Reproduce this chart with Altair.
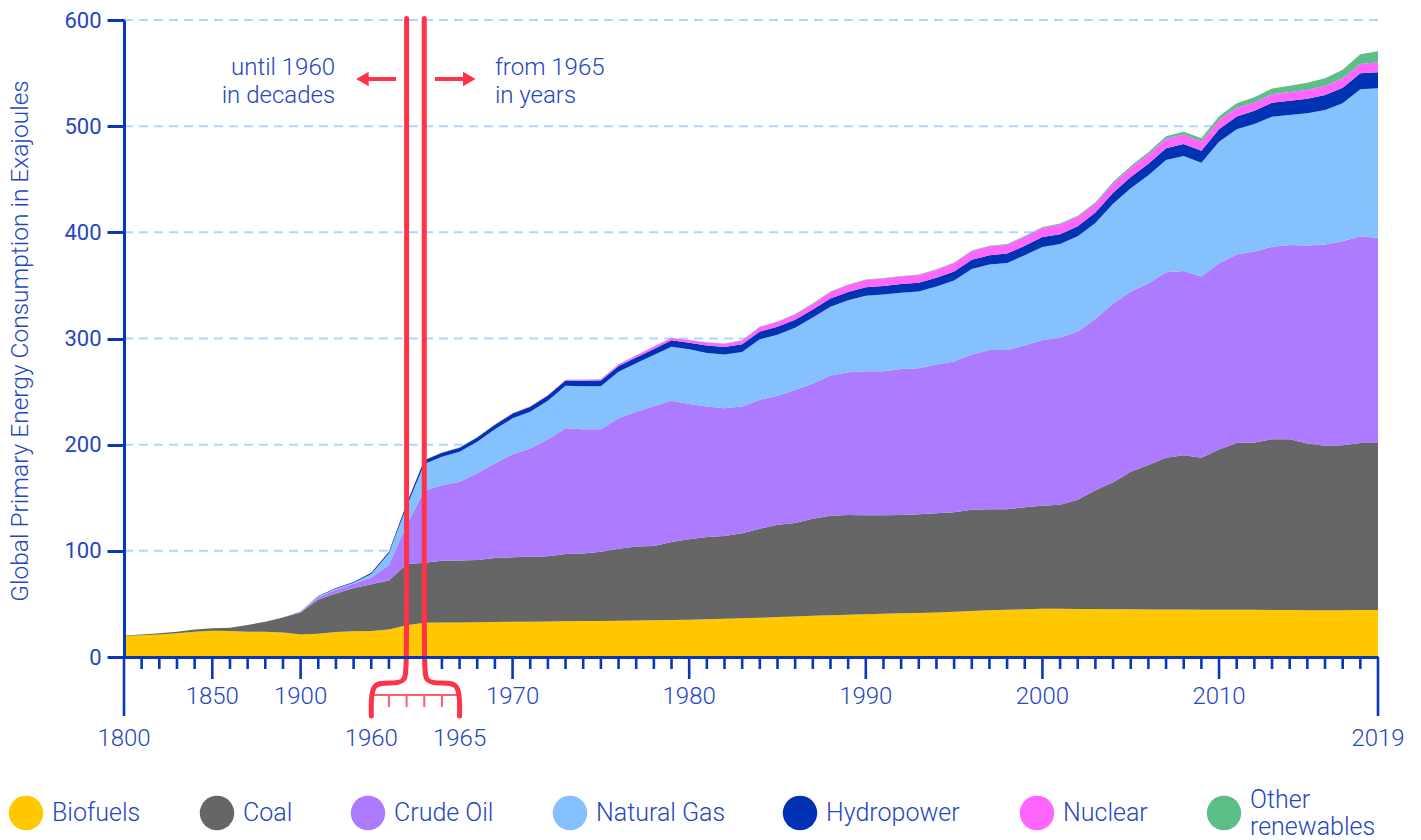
import altair as alt
import pandas as pd

# ---------------------------------------------------------------------------
# Global primary energy consumption by source, in exajoules.
# Until 1960 the series is given per decade, from 1965 per year.
# ---------------------------------------------------------------------------
years = [1800 + 10 * k for k in range(17)] + list(range(1965, 2020))

biofuels = [
    19.8, 20.4, 21.3, 22.3, 23.9, 24.8, 24.5, 23.9, 23.9, 23.0, 21.1, 22.0, 23.6, 24.2, 24.5, 26.0, 30.0,
    32.3, 32.5, 32.6, 32.8, 33.0, 33.1, 33.3, 33.5, 33.6, 33.8, 34.0, 34.2, 34.4, 34.6, 34.8, 35.0,
    35.5, 36.0, 36.5, 37.0, 37.6, 38.2, 38.8, 39.3, 39.8, 40.3, 40.7, 41.1, 41.5, 42.0, 42.6, 43.3, 44.0, 44.5, 45.0, 45.5,
    45.4, 45.3, 45.2, 45.0, 44.9, 44.8, 44.7, 44.7, 44.6, 44.6, 44.5, 44.4, 44.3, 44.2, 44.0, 44.0, 44.1, 44.2, 44.3,
]
coal = [
    0.4, 0.7, 1.0, 1.6, 2.1, 2.2, 3.1, 6.2, 9.3, 14.3, 20.9, 32.2, 36.3, 40.8, 44.0, 46.0, 57.3,
    56.5, 58.2, 58.4, 58.6, 60.2, 60.8, 61.1, 61.5, 63.4, 63.7, 65.2, 67.8, 69.6, 70.0, 73.5, 75.8,
    77.5, 78.0, 80.0, 83.9, 86.9, 88.1, 91.4, 93.8, 94.0, 93.2, 92.8, 92.7, 93.0, 93.3, 93.7, 95.5, 95.2, 94.7, 96.0, 97.0,
    98.1, 102.7, 111.8, 119.6, 129.7, 136.0, 143.0, 145.3, 143.1, 150.8, 157.0, 157.6, 160.7, 160.8, 157.0, 155.0, 155.4, 157.3, 157.2,
]
crude_oil = [
    0.0, 0.0, 0.0, 0.0, 0.0, 0.0, 0.0, 0.0, 0.0, 0.1, 0.7, 2.0, 3.4, 4.0, 6.5, 14.7, 36.7,
    67.9, 71.0, 74.0, 81.6, 89.2, 97.1, 102.1, 110.0, 118.4, 117.0, 115.3, 122.8, 127.0, 131.8, 133.1, 127.5,
    123.0, 120.2, 119.5, 121.5, 121.5, 125.1, 127.4, 132.0, 134.5, 135.6, 135.6, 137.4, 137.4, 140.2, 142.1, 146.1, 150.0, 150.0, 152.5, 156.0,
    157.3, 158.5, 161.5, 168.1, 169.6, 171.1, 174.6, 173.5, 170.8, 175.4, 177.7, 179.9, 181.5, 183.1, 186.7, 189.5, 192.0, 194.7, 193.1,
]
natural_gas = [
    0.0, 0.0, 0.0, 0.0, 0.0, 0.0, 0.0, 0.0, 0.0, 0.1, 0.3, 0.8, 1.0, 1.0, 3.2, 11.0, 17.5,
    25.1, 27.0, 28.4, 29.8, 32.1, 33.8, 34.5, 36.4, 40.1, 40.5, 40.5, 43.9, 45.6, 48.0, 50.9, 51.5,
    50.3, 50.7, 51.4, 56.9, 57.6, 58.7, 62.2, 64.8, 67.7, 71.2, 72.3, 72.0, 72.3, 73.4, 76.3, 80.6, 80.6, 82.0, 84.9, 87.8,
    88.2, 89.7, 90.3, 94.3, 97.3, 101.9, 105.8, 108.4, 107.1, 114.6, 117.8, 120.1, 122.4, 122.4, 124.4, 126.7, 130.0, 138.5, 141.0,
]
hydropower = [
    0.0, 0.0, 0.0, 0.0, 0.0, 0.0, 0.0, 0.0, 0.0, 0.0, 0.2, 0.4, 0.6, 0.7, 1.2, 1.5, 2.8,
    3.5, 3.7, 3.8, 4.0, 4.3, 4.5, 4.7, 4.8, 4.9, 5.3, 5.4, 5.5, 5.6, 5.8, 6.0, 6.2,
    7.0, 7.1, 7.2, 7.3, 7.4, 7.5, 7.6, 7.8, 7.9, 8.0, 8.1, 8.1, 8.3, 8.3, 8.5, 8.6, 8.7, 8.8, 8.9, 9.2,
    9.3, 9.5, 9.8, 10.3, 10.6, 10.9, 11.0, 11.3, 11.3, 11.8, 12.1, 12.6, 13.2, 13.5, 13.8, 14.1, 14.8, 15.1, 15.1,
]
nuclear = [
    0.0, 0.0, 0.0, 0.0, 0.0, 0.0, 0.0, 0.0, 0.0, 0.0, 0.0, 0.0, 0.0, 0.0, 0.0, 0.0, 0.2,
    0.1, 0.2, 0.2, 0.3, 0.3, 0.3, 0.4, 0.6, 0.7, 0.9, 1.3, 1.5, 1.9, 2.2, 2.2, 2.5,
    2.9, 3.1, 3.4, 4.3, 4.8, 5.0, 5.4, 6.1, 6.5, 6.8, 6.9, 7.1, 7.3, 7.6, 7.9, 8.2, 8.3, 8.4, 8.6, 8.7,
    9.0, 8.9, 8.6, 8.8, 8.8, 8.8, 9.0, 8.9, 8.7, 8.6, 8.3, 7.8, 8.0, 8.3, 8.5, 8.8, 8.9, 8.8, 9.6,
]
other_renewables = [
    0.0, 0.0, 0.0, 0.0, 0.0, 0.0, 0.0, 0.0, 0.0, 0.0, 0.0, 0.0, 0.0, 0.0, 0.0, 0.0, 0.0,
    0.1, 0.1, 0.1, 0.1, 0.1, 0.1, 0.1, 0.1, 0.1, 0.1, 0.1, 0.1, 0.1, 0.1, 0.1, 0.1,
    0.3, 0.3, 0.3, 0.3, 0.3, 0.4, 0.4, 0.4, 0.4, 0.5, 0.5, 0.5, 0.5, 0.5, 0.6, 0.6, 0.6, 0.6, 0.7, 0.8,
    1.0, 1.1, 1.2, 1.4, 1.6, 1.9, 2.3, 2.7, 3.0, 3.6, 4.2, 4.8, 5.3, 5.8, 6.4, 7.1, 8.0, 9.2, 10.3,
]

series_names = ["Biofuels", "Coal", "Crude Oil", "Natural Gas", "Hydropower", "Nuclear", "Other renewables"]
series_values = [biofuels, coal, crude_oil, natural_gas, hydropower, nuclear, other_renewables]
series_colors = ["#ffc800", "#666666", "#ac7bff", "#85c1ff", "#0033b4", "#ff66ff", "#5cbf88"]

y_ticks = [0, 100, 200, 300, 400, 500, 600]
upper_label_years = [1850, 1900, 1970, 1980, 1990, 2000, 2010]
end_label_years = [1800, 2019]

# ---------------------------------------------------------------------------
# Styling and layout
# ---------------------------------------------------------------------------
AXIS = "#0a36b8"
TEXT = "#2446c2"
GRID = "#aed6ff"
RED = "#ff3347"
RED_LIGHT = "#ff5c6c"
FONT = "Roboto"
LEFT, TOP = 124, 20
PLOT_W, PLOT_H = 1254, 637
Y_MAX = 600
PX_PER_UNIT = PLOT_H / Y_MAX

# legend row under the chart: symbol centres (page pixels)
legend_centres = [26, 217, 368, 570, 800, 1037, 1224]
LEGEND_Y = 813
LEGEND_LINE = 27

last = len(years) - 1
x_scale = alt.Scale(domain=[0, last], nice=False, zero=False)
y_scale = alt.Scale(domain=[0, Y_MAX], nice=False, zero=True)


def below_axis(px):
    """Value on the y scale that lies px pixels under the baseline."""
    return -px / PX_PER_UNIT


# long table for the stacked areas
rows = []
for rank, (name, vals) in enumerate(zip(series_names, series_values)):
    for pos, (yr, v) in enumerate(zip(years, vals)):
        rows.append({"pos": pos, "year": yr, "series": name, "value": v, "rank": rank})
energy = pd.DataFrame(rows)

y_axis = alt.Axis(
    values=y_ticks, grid=False, zindex=1,
    domainColor=AXIS, domainWidth=3, tickColor=AXIS, tickWidth=3, tickSize=17,
    labelFont=FONT, labelFontSize=22, labelColor=TEXT, labelPadding=6,
    title="Global Primary Energy Consumption in Exajoules",
    titleFont=FONT, titleFontSize=24.5, titleFontWeight=300, titleColor=TEXT,
    titleAngle=270, titleAlign="center", titleBaseline="middle", titleX=-104, titleY=PLOT_H / 2 + 2,
)
x_axis = alt.Axis(domain=True, domainColor=AXIS, domainWidth=3, ticks=False, labels=False,
                  grid=False, title=None, zindex=1)


def X(field):
    return alt.X(field, scale=x_scale, axis=x_axis)


# dashed horizontal grid
grid = alt.Chart(pd.DataFrame({"value": y_ticks[1:]})).mark_rule(
    color=GRID, strokeWidth=2, strokeDash=[9, 6]
).encode(y=alt.Y("value:Q", scale=y_scale, axis=y_axis))

areas = alt.Chart(energy).mark_area(interpolate="linear").encode(
    x=X("pos:Q"),
    y=alt.Y("value:Q", stack="zero", scale=y_scale, axis=y_axis),
    color=alt.Color("series:N", scale=alt.Scale(domain=series_names, range=series_colors), legend=None),
    order=alt.Order("rank:Q", sort="ascending"),
)

# x-axis ticks: short for every step, longer for labelled ones, longest at both ends
tick_groups = {12: [], 22: [], 59: []}
for pos, yr in enumerate(years):
    if yr in end_label_years:
        tick_groups[59].append(pos)
    elif yr in upper_label_years:
        tick_groups[22].append(pos)
    else:
        tick_groups[12].append(pos)
x_ticks = [
    alt.Chart(pd.DataFrame({"pos": plist})).mark_rule(color=AXIS, strokeWidth=2.6).encode(
        x=X("pos:Q"), y=alt.value(PLOT_H), y2=alt.value(PLOT_H + length)
    )
    for length, plist in tick_groups.items()
]

label_style = dict(font=FONT, fontSize=24, fontWeight=300, color=TEXT, baseline="alphabetic")
upper_labels = alt.Chart(pd.DataFrame({
    "pos": [years.index(y) for y in upper_label_years],
    "label": [str(y) for y in upper_label_years],
})).mark_text(**label_style).encode(x=X("pos:Q"), y=alt.value(PLOT_H + 47), text="label:N")

# bracket that widens the 1960-1965 gap into five year steps
gap_start, gap_end = years.index(1960), years.index(1965)
bracket_left, bracket_right = gap_start - 2, gap_end + 2
lower_labels = alt.Chart(pd.DataFrame({
    "pos": [0, last, bracket_left, bracket_right],
    "label": [str(years[0]), str(years[-1]), str(years[gap_start]), str(years[gap_end])],
})).mark_text(**label_style).encode(x=X("pos:Q"), y=alt.value(PLOT_H + 89), text="label:N")

top_val = Y_MAX + 1.5
path_rows = []
for side, (start, outer) in enumerate([(gap_start, bracket_left), (gap_end, bracket_right)]):
    mid = (start + outer) / 2
    pts = [(start, top_val), (start, below_axis(5)), (start, below_axis(26)),
           (mid, below_axis(26)), (outer, below_axis(26)), (outer, below_axis(52)), (outer, below_axis(59))]
    for k, (px, pv) in enumerate(pts):
        path_rows.append({"side": side, "k": k, "pos": px, "value": pv})
bracket = alt.Chart(pd.DataFrame(path_rows)).mark_line(
    color=RED, strokeWidth=5, strokeCap="round", interpolate="basis"
).encode(
    x=X("pos:Q"),
    y=alt.Y("value:Q", scale=y_scale, axis=y_axis),
    detail="side:N",
    order="k:Q",
)

inner_line = alt.Chart(pd.DataFrame({"pos": [bracket_left], "b": [bracket_right]})).mark_rule(
    color=RED_LIGHT, strokeWidth=2
).encode(x=X("pos:Q"), x2="b:Q", y=alt.value(PLOT_H + 38))
inner_ticks = alt.Chart(pd.DataFrame({"pos": list(range(bracket_left + 1, bracket_right))})).mark_rule(
    color=RED_LIGHT, strokeWidth=2
).encode(x=X("pos:Q"), y=alt.value(PLOT_H + 38), y2=alt.value(PLOT_H + 50))

# arrows pointing away from the break
ARROW_Y = 59
shafts = alt.Chart(pd.DataFrame({"pos": [15.40, 17.61], "b": [13.7, 19.3]})).mark_rule(
    color=RED, strokeWidth=4
).encode(x=X("pos:Q"), x2="b:Q", y=alt.value(ARROW_Y))
heads = alt.Chart(pd.DataFrame({"pos": [13.50, 19.55], "shape": ["triangle-left", "triangle-right"]})).mark_point(
    filled=True, color=RED, opacity=1, size=210
).encode(x=X("pos:Q"), y=alt.value(ARROW_Y), shape=alt.Shape("shape:N", scale=None))

note_style = dict(font=FONT, fontSize=24, fontWeight=300, color=TEXT, baseline="alphabetic",
                  lineBreak="\n", lineHeight=28)
note_left = alt.Chart(pd.DataFrame({"pos": [11.95], "text": ["until 1960\nin decades"]})).mark_text(
    align="right", **note_style).encode(x=X("pos:Q"), y=alt.value(55), text="text:N")
note_right = alt.Chart(pd.DataFrame({"pos": [21.0], "text": ["from 1965\nin years"]})).mark_text(
    align="left", **note_style).encode(x=X("pos:Q"), y=alt.value(55), text="text:N")

# legend: coloured dots with their names
legend_layers = []
for name, color, cx in zip(series_names, series_colors, legend_centres):
    legend_layers.append(
        alt.Chart(pd.DataFrame({"series": [name]})).mark_point(
            shape="circle", filled=True, opacity=1, size=1190, color=color
        ).encode(x=alt.value(cx - LEFT), y=alt.value(LEGEND_Y - TOP))
    )
    lines = name.split(" ") if name == "Other renewables" else [name]
    offset = -(len(lines) - 1) * LEGEND_LINE / 2
    for j, line in enumerate(lines):
        legend_layers.append(
            alt.Chart(pd.DataFrame({"text": [line]})).mark_text(
                font=FONT, fontSize=25, fontWeight=300, color=TEXT, align="left", baseline="middle"
            ).encode(x=alt.value(cx - LEFT + 26),
                     y=alt.value(LEGEND_Y - TOP + offset + LEGEND_LINE * j),
                     text="text:N")
        )

chart = alt.layer(
    grid, areas, *x_ticks, upper_labels, lower_labels,
    inner_line, inner_ticks, bracket, shafts, heads, note_left, note_right,
    *legend_layers,
).properties(
    width=PLOT_W, height=PLOT_H,
    padding={"left": LEFT, "top": TOP, "right": 1421 - LEFT - PLOT_W, "bottom": 840 - TOP - PLOT_H},
    autosize=alt.AutoSizeParams(type="none"),
    background="white",
).configure_view(strokeWidth=0)

chart.save("out.html", embed_options={"renderer": "svg", "actions": False})
